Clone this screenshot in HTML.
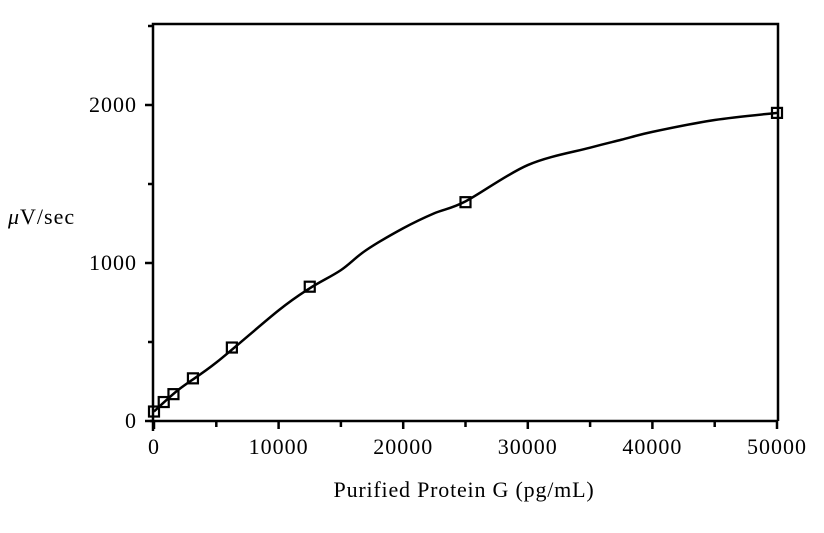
<!DOCTYPE html>
<html><head><meta charset="utf-8"><style>
html,body{margin:0;padding:0;background:#fff;}
svg{display:block;font-family:"Liberation Serif",serif;}
</style></head><body>
<svg id="chart" width="824" height="533" viewBox="0 0 824 533" xmlns="http://www.w3.org/2000/svg">
<g id="axes"></g>
<g id="marks"></g>
<text x="8" y="224" font-size="22" letter-spacing="1" fill="#000"><tspan font-style="italic">μ</tspan>V/sec</text>
<text x="464" y="497" font-size="22" letter-spacing="0.8" text-anchor="middle" fill="#000">Purified Protein G (pg/mL)</text>
</svg>
<script>
const xTicks = [0, 10000, 20000, 30000, 40000, 50000];
const xMinor = [5000, 15000, 25000, 35000, 45000];
const yTicks = [0, 1000, 2000];
const yMinor = [500, 1500, 2500];
const pointX = [0, 781, 1562, 3125, 6250, 12500, 25000, 50000];
const pointY = [60, 120, 170, 270, 465, 850, 1385, 1950];
const curveX = [0, 2000, 5000, 10000, 12500, 15000, 17000, 20000, 22500, 25000, 30000, 35000, 37500, 40000, 45000, 50000];
const curveY = [60, 200, 370, 700, 840, 955, 1080, 1220, 1315, 1390, 1620, 1730, 1780, 1830, 1905, 1950];

const X0=153, X1=778, YB=421, YT=24;
const sx = v => X0 + v/50000*(X1-X0-2) + 1;
const sy = v => 421 - v*0.158;
const NS="http://www.w3.org/2000/svg";
const axes=document.getElementById('axes'), marks=document.getElementById('marks');
function mk(tag, attrs, parent){const e=document.createElementNS(NS,tag);for(const k in attrs)e.setAttribute(k,attrs[k]);parent.appendChild(e);return e;}

const frame=mk('path',{d:`M${X0} ${YB+10}V${YT}H${X1}V${YB}M${X0-3} ${YB}H${X1}`,fill:'none',stroke:'#000','stroke-width':2.5},axes);



xTicks.forEach(v=>{
  const t=mk('line',{x1:sx(v),x2:sx(v),y1:YB,y2:YB+8,stroke:'#000','stroke-width':2.5},axes);
  
  
  const l=mk('text',{x:sx(v),y:YB+33,'font-size':22,'letter-spacing':1,'text-anchor':'middle'},axes);
  l.textContent=v;
  
  
});
xMinor.forEach(v=>{
  const t=mk('line',{x1:sx(v),x2:sx(v),y1:YB,y2:YB+6,stroke:'#000','stroke-width':2.5},axes);
  
  
});
yTicks.forEach(v=>{
  const t=mk('line',{x1:X0-8,x2:X0,y1:sy(v),y2:sy(v),stroke:'#000','stroke-width':2.5},axes);
  
  
  const l=mk('text',{x:X0-16,y:sy(v)+7,'font-size':22,'letter-spacing':1,'text-anchor':'end'},axes);
  l.textContent=v;
  
  
});
yMinor.forEach(v=>{
  const t=mk('line',{x1:X0-5,x2:X0,y1:sy(v),y2:sy(v),stroke:'#000','stroke-width':2.5},axes);
  
  
});

const P=curveX.map((x,i)=>[sx(x),sy(curveY[i])]);
let d=`M${P[0][0]} ${P[0][1]}`;
for(let i=0;i<P.length-1;i++){
  const p0=P[Math.max(0,i-1)],p1=P[i],p2=P[i+1],p3=P[Math.min(P.length-1,i+2)];
  const c1=[p1[0]+(p2[0]-p0[0])/6,p1[1]+(p2[1]-p0[1])/6];
  const c2=[p2[0]-(p3[0]-p1[0])/6,p2[1]-(p3[1]-p1[1])/6];
  d+=`C${c1[0]} ${c1[1]} ${c2[0]} ${c2[1]} ${p2[0]} ${p2[1]}`;
}
const curve=mk('path',{d:d,fill:'none',stroke:'#000','stroke-width':2.5},marks);



pointX.forEach((x,i)=>{
  const r=mk('rect',{x:sx(x)-5,y:sy(pointY[i])-5,width:10,height:10,fill:'none',stroke:'#000','stroke-width':2.2},marks);
  
  
});
</script>
</body></html>
